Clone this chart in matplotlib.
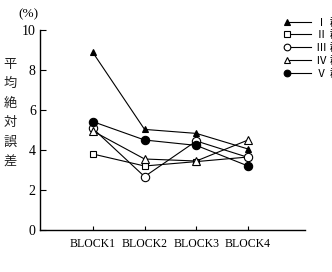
import matplotlib
matplotlib.use("Agg")
import matplotlib.pyplot as plt
from matplotlib.lines import Line2D
from matplotlib.legend_handler import HandlerLine2D

plt.rcParams['font.family'] = ['Liberation Serif', 'Noto Sans CJK JP']

blocks = ['BLOCK1', 'BLOCK2', 'BLOCK3', 'BLOCK4']
g1 = [8.88, 5.03, 4.83, 4.05]
g2 = [3.80, 3.20, 3.42, 3.65]
g3 = [5.08, 2.67, 4.45, 3.63]
g4 = [4.95, 3.55, 3.45, 4.50]
g5 = [5.42, 4.50, 4.23, 3.20]
names = ['Ⅰ 群', 'Ⅱ 群', 'Ⅲ 群', 'Ⅳ 群', 'Ⅴ 群']
yticks = [0, 2, 4, 6, 8, 10]


class LeftMarker(HandlerLine2D):
    # marker at the left end of the legend line, like the original
    def create_artists(self, legend, orig_handle, xdescent, ydescent,
                       width, height, fontsize, trans):
        arts = super().create_artists(legend, orig_handle, xdescent, ydescent,
                                      width, height, fontsize, trans)
        arts[0].set_markevery([0])
        return arts


fig = plt.figure(figsize=(3.32, 2.72), dpi=100)
ax = fig.add_axes([40/332, 42/272, 265/332, 200/272])

x = [1, 2, 3, 4]
styles = [
    dict(marker='^', mfc='black', ms=5),
    dict(marker='s', mfc='white', ms=5),
    dict(marker='o', mfc='white', ms=6),
    dict(marker='^', mfc='white', ms=5.5),
    dict(marker='o', mfc='black', ms=6),
]
lines = []
for vals, st, nm in zip([g1, g2, g3, g4, g5], styles, names):
    ln, = ax.plot(x, vals, color='black', lw=0.8, mec='black', mew=0.8,
                  label=nm, **st)
    lines.append(ln)

ax.set_xlim(-0.02, 5.1)
ax.set_ylim(0, 10)
ax.set_xticks(x)
ax.set_xticklabels(blocks, fontsize=8.5)
ax.set_yticks(yticks)
ax.set_yticklabels([str(v) for v in yticks], fontsize=10)
ax.tick_params(axis='y', direction='in', length=4, width=0.8, pad=3)
ax.tick_params(axis='x', direction='in', length=3, width=0.8, pad=6)
for s in ['top', 'right']:
    ax.spines[s].set_visible(False)
for s in ['left', 'bottom']:
    ax.spines[s].set_linewidth(1.0)

fig.text(28/332, 1 - 14/272, '(%)', fontsize=9.5, ha='center', va='center')
fig.text(10/332, 1 - 113/272, '\n'.join('平均絶対誤差'), fontsize=9.5,
         ha='center', va='center', linespacing=1.65,
         family=['Noto Sans CJK JP'], color='#222222')

ax.legend(handles=lines, loc='upper left',
          bbox_to_anchor=(287/332, 1 - 17/272), bbox_transform=fig.transFigure,
          frameon=False, fontsize=8, handlelength=2.2, handletextpad=0.4,
          labelspacing=0.2, borderpad=0, borderaxespad=0, numpoints=1,
          markerscale=0.8, handler_map={Line2D: LeftMarker()})

fig.savefig('out.png', dpi=100)
